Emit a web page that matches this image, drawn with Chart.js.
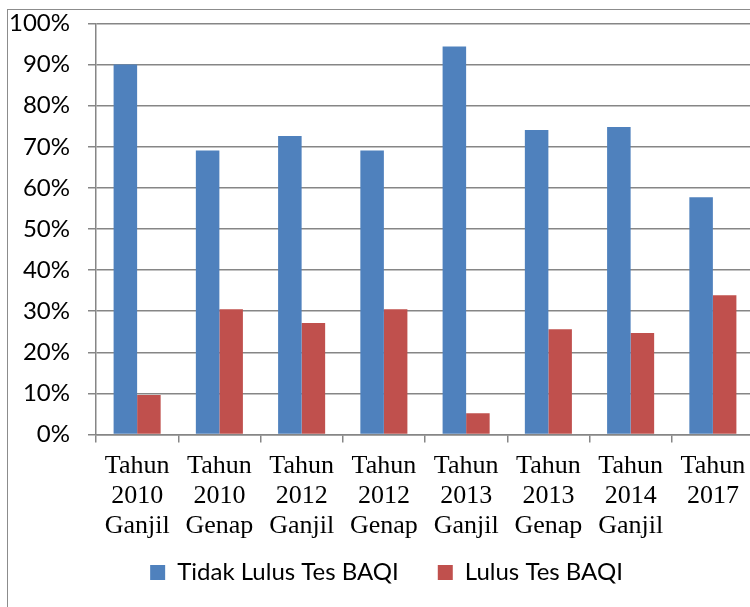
<!DOCTYPE html>
<html>
<head>
<meta charset="utf-8">
<script src="https://cdn.jsdelivr.net/npm/chart.js@4/dist/chart.umd.min.js"></script>
<style>
  html, body { margin: 0; padding: 0; background: #fff; overflow: hidden; }
  #frame {
    position: absolute; left: 7px; top: 9px;
    width: 778px; height: 610px;
    border: 1px solid #8c8c8c;
    background: #fff;
  }
  #chart { display: block; }
</style>
</head>
<body>
<div id="frame"><canvas id="chart" width="778" height="610"></canvas></div>
<script>
// Semesters covered by the BAQI test results
const categories = [
  ['Tahun', '2010', 'Ganjil'],
  ['Tahun', '2010', 'Genap'],
  ['Tahun', '2012', 'Ganjil'],
  ['Tahun', '2012', 'Genap'],
  ['Tahun', '2013', 'Ganjil'],
  ['Tahun', '2013', 'Genap'],
  ['Tahun', '2014', 'Ganjil'],
  ['Tahun', '2017']
];
// Share of students (percent) per semester
const tidakLulus = [90.0, 69.1, 72.6, 69.1, 94.4, 74.1, 74.8, 57.7];
const lulus      = [9.6, 30.5, 27.1, 30.5, 5.2, 25.6, 24.7, 33.9];
const seriesNames = ['Tidak Lulus Tes BAQI', 'Lulus Tes BAQI'];
// Percentage ticks on the value axis
const yTicks = [0, 10, 20, 30, 40, 50, 60, 70, 80, 90, 100];

const gridGray = '#868686';

// Tick labels may run outside their axis box (long multi-line labels)
const noLabelClip = () => undefined;

new Chart(document.getElementById('chart'), {
  type: 'bar',
  data: {
    labels: categories,
    datasets: [
      { label: seriesNames[0], data: tidakLulus, backgroundColor: '#4F81BD', borderWidth: 0 },
      { label: seriesNames[1], data: lulus, backgroundColor: '#C0504D', borderWidth: 0 }
    ]
  },
  options: {
    responsive: false,
    animation: false,
    devicePixelRatio: 1,
    layout: { padding: { top: 13.5, right: 32, bottom: 25.5, left: 11 } },
    datasets: { bar: { categoryPercentage: 0.572, barPercentage: 1.0 } },
    plugins: {
      tooltip: { enabled: false },
      legend: {
        position: 'bottom',
        labels: {
          boxWidth: 15, boxHeight: 15, padding: 39,
          color: '#000',
          font: { family: 'Lato', size: 24 }
        }
      }
    },
    scales: {
      x: {
        afterFit(scale) {
          scale.height = 87;
          scale._computeLabelArea = noLabelClip;
        },
        grid: { offset: true, drawOnChartArea: false, drawTicks: true, tickLength: 8, color: gridGray, lineWidth: 1.5 },
        border: { color: gridGray, width: 1.5 },
        ticks: {
          color: '#000', padding: 8.5, maxRotation: 0, autoSkip: false,
          font: { family: 'Liberation Serif', size: 26, lineHeight: 30 / 26 }
        }
      },
      y: {
        min: 0, max: 100,
        afterFit(scale) {
          scale.width = 77;
          scale.paddingTop = 0;
          scale.paddingBottom = 0;
          scale._computeLabelArea = noLabelClip;
        },
        afterBuildTicks(scale) { scale.ticks = yTicks.map(v => ({ value: v })); },
        grid: { color: gridGray, lineWidth: 1.5, tickLength: 8 },
        border: { color: gridGray, width: 1.5 },
        ticks: {
          color: '#000', padding: 18,
          font: { family: 'Lato', size: 24 },
          callback: v => v + '%'
        }
      }
    }
  }
});
</script>
</body>
</html>
